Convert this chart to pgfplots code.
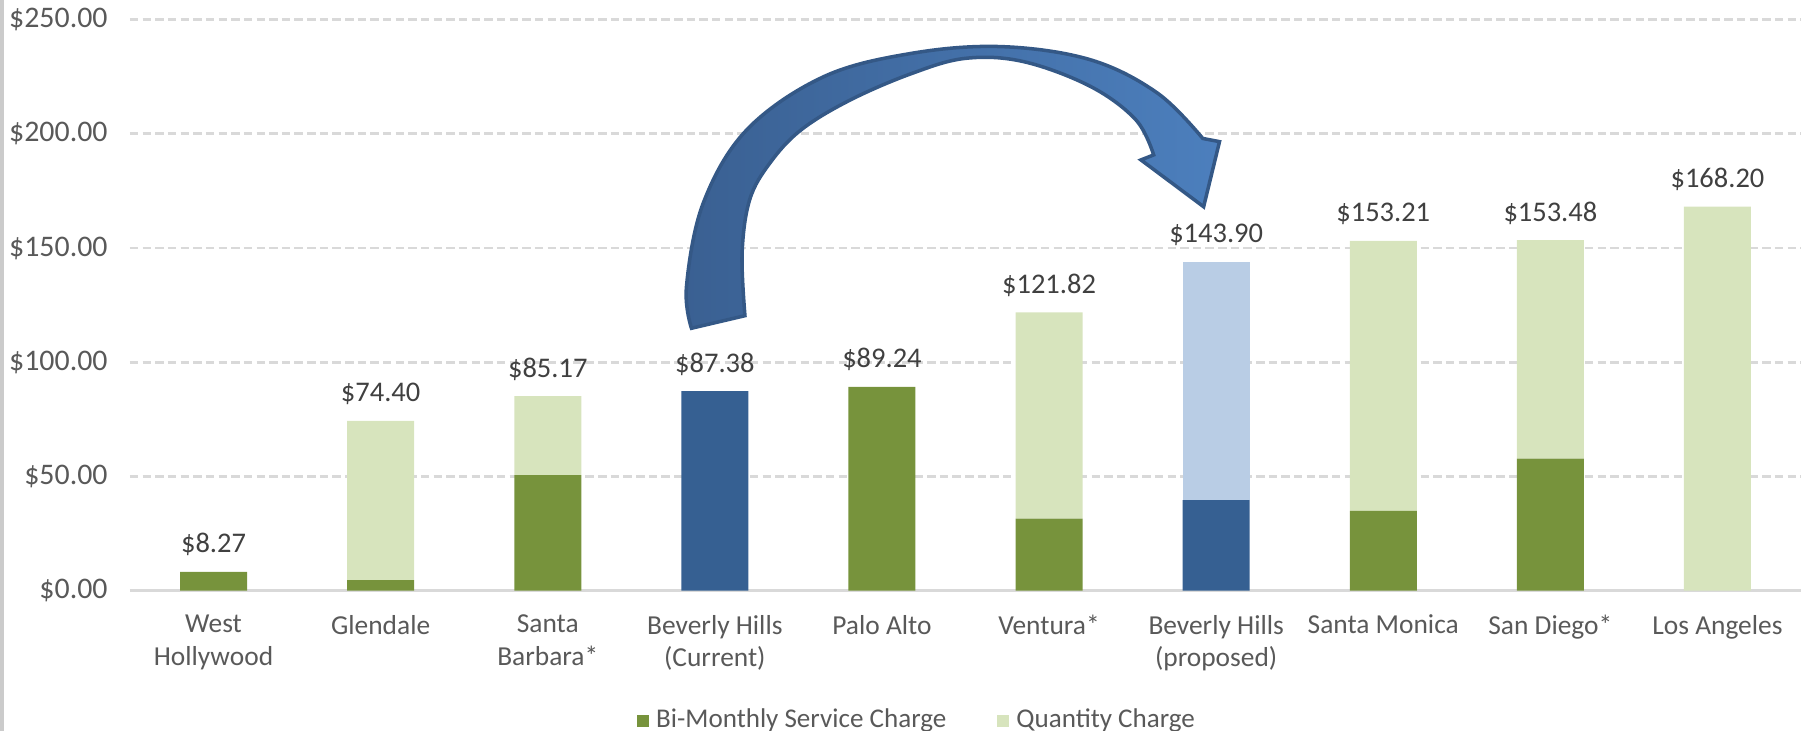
\documentclass[border=0pt]{standalone}
\usepackage{fontspec}
\setmainfont{Carlito}
\usepackage{pgfplots}
\pgfplotsset{compat=1.18}
\definecolor{svc}{RGB}{119,147,60}
\definecolor{qty}{RGB}{215,228,189}
\definecolor{bhdark}{RGB}{54,96,146}
\definecolor{bhlight}{RGB}{185,205,229}
\definecolor{txt}{RGB}{89,89,89}
\definecolor{lbl}{RGB}{64,64,64}
\definecolor{gridc}{RGB}{217,217,217}
\definecolor{arrL}{RGB}{58,96,146}
\definecolor{arrR}{RGB}{76,127,189}
\definecolor{arrO}{RGB}{52,88,134}

\pgfplotsset{frame/.style={scale only axis, width=16.71cm, height=5.71cm,
  xmin=-0.5, xmax=9.5, ymin=0, ymax=250}}

\begin{document}
\begin{tikzpicture}
\begin{axis}[
  name=main, frame,
  ybar stacked, bar width=6.7mm,
  xtick={0,...,9},
  xticklabels={West\\Hollywood, Glendale, Santa\\Barbara*, Beverly Hills\\(Current),
    Palo Alto, Ventura*, Beverly Hills\\(proposed), Santa Monica, San Diego*, Los Angeles},
  ytick={0,50,...,250},
  yticklabel={\$\pgfmathprintnumber[fixed,fixed zerofill,precision=2]{\tick}},
  /pgf/number format/assume math mode=true,
  major tick length=0pt,
  ymajorgrids, grid style={gridc, line width=0.8pt, dash pattern=on 2.4pt off 1.2pt},
  axis x line*=bottom, axis y line*=left,
  x axis line style={gridc, line width=1pt},
  y axis line style={draw=none},
  yticklabel style={font=\fontsize{8.5}{10}\selectfont, text=txt, xshift=-1.0mm},
  xticklabel style={font=\fontsize{7.8}{9.2}\selectfont, text=txt, align=center, yshift=-1.2mm},
  legend style={at={(0.4725,-0.228)}, anchor=center, draw=none, fill=none, inner sep=0pt,
    legend columns=2, font=\fontsize{7.7}{9}\selectfont, text=txt,
    /tikz/every even column/.append style={column sep=4.4mm}},
  legend image code/.code={\fill[#1] (0mm,-0.6mm) rectangle (1.2mm,0.6mm);},
  clip=false,
]
% service charge (green)
\addplot[fill=svc, draw=none] coordinates {
  (0,8.27)(1,4.6)(2,50.6)(3,0)(4,89.24)(5,31.5)(6,0)(7,35.0)(8,57.8)(9,0)};
\addlegendentry{Bi-Monthly Service Charge}
% service charge, Beverly Hills (blue)
\addplot[fill=bhdark, draw=none, forget plot] coordinates {
  (0,0)(1,0)(2,0)(3,87.38)(4,0)(5,0)(6,39.7)(7,0)(8,0)(9,0)};
% quantity charge (light green)
\addplot[fill=qty, draw=none] coordinates {
  (0,0)(1,69.8)(2,34.57)(3,0)(4,0)(5,90.32)(6,0)(7,118.21)(8,95.68)(9,168.2)};
\addlegendentry{Quantity Charge}
% quantity charge, Beverly Hills proposed (light blue)
\addplot[fill=bhlight, draw=none, forget plot] coordinates {
  (0,0)(1,0)(2,0)(3,0)(4,0)(5,0)(6,104.2)(7,0)(8,0)(9,0)};
% curved block arrow
\draw[arrO, line width=1pt, left color=arrL, right color=arrR]
  plot[smooth, tension=0.6] coordinates {
    (axis cs:2.86,114.9) (axis cs:2.83,133.1) (axis cs:2.93,169.6) (axis cs:3.19,201.7)
    (axis cs:3.65,225) (axis cs:4.18,235.3) (axis cs:4.72,238.2) (axis cs:5.25,232.4)
    (axis cs:5.65,217.8) (axis cs:5.92,198)}
  -- (axis cs:6.02,196.6) -- (axis cs:5.925,168.1) -- (axis cs:5.55,188.6)
  -- plot[smooth, tension=0.6] coordinates {
    (axis cs:5.626,190.8) (axis cs:5.52,206.1) (axis cs:5.25,220.7) (axis cs:4.85,231.6)
    (axis cs:4.503,233.1) (axis cs:4.18,226.5) (axis cs:3.809,214.8) (axis cs:3.515,201.7)
    (axis cs:3.328,187.1) (axis cs:3.208,171.1) (axis cs:3.163,147.7) (axis cs:3.18,120.4)}
  -- cycle;
\end{axis}
% totals above each stack
\begin{axis}[frame, hide axis, clip=false]
\addplot[draw=none, mark=none,
  point meta=explicit symbolic,
  nodes near coords={\pgfplotspointmeta},
  nodes near coords style={font=\fontsize{8.1}{9.6}\selectfont, text=lbl, anchor=south, yshift=0.35mm}]
  coordinates {
  (0,8.27)[\$8.27] (1,74.40)[\$74.40] (2,85.17)[\$85.17] (3,87.38)[\$87.38] (4,89.24)[\$89.24]
  (5,121.82)[\$121.82] (6,143.90)[\$143.90] (7,153.21)[\$153.21] (8,153.48)[\$153.48] (9,168.20)[\$168.20]};
\end{axis}
% page frame: same proportions as the reference, with its grey left border
\pgfresetboundingbox
\path[use as bounding box] ([xshift=-13mm,yshift=-14.03mm]main.south west)
  rectangle ([xshift=1.5mm,yshift=1.97mm]main.north east);
\draw[gridc!85!gray, line width=1.2pt]
  ([xshift=-13mm+0.6pt,yshift=-14.03mm]main.south west) -- ([xshift=-13mm+0.6pt,yshift=1.97mm]main.north west);
\end{tikzpicture}
\end{document}
